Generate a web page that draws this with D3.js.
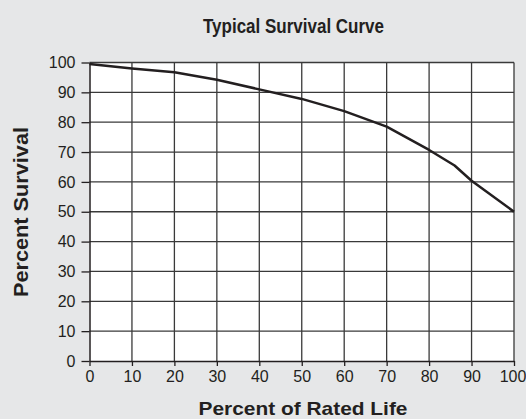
<!DOCTYPE html>
<html><head><meta charset="utf-8">
<script src="https://cdn.jsdelivr.net/npm/d3@7"></script>
<style>
html,body{margin:0;padding:0;background:#e6e7e8;}
svg{display:block;}
</style></head>
<body>
<script>
const xTicks = [0,10,20,30,40,50,60,70,80,90,100];
const yTicks = [0,10,20,30,40,50,60,70,80,90,100];
const lifePct = [0,10,20,30,40,50,60,70,80,86,90,100];
const survivalPct = [99.5,98,96.7,94.2,91,87.8,83.7,78.5,70.7,65.5,60.4,50];
const title = "Typical Survival Curve";
const xTitle = "Percent of Rated Life";
const yTitle = "Percent Survival";

const W = 526, H = 419;
const svg = d3.select("body").append("svg").attr("width", W).attr("height", H);
svg.append("rect").attr("width", W).attr("height", H).attr("fill", "#e6e7e8");

const x = d3.scaleLinear().domain([0,100]).range([89.5, 514]);
const y = d3.scaleLinear().domain([0,100]).range([361, 62.5]);

svg.append("rect").attr("x", x(0)).attr("y", y(100))
  .attr("width", x(100)-x(0)).attr("height", y(0)-y(100)).attr("fill", "#ffffff");

const grid = svg.append("g");
grid.selectAll("line.v").data(xTicks.filter(d=>d>0)).join("line")
  .attr("x1", d=>x(d)).attr("x2", d=>x(d)).attr("y1", y(0)).attr("y2", y(100))
  .attr("stroke", "#3a3a3a").attr("stroke-width", 1.3);
grid.selectAll("line.h").data(yTicks.filter(d=>d>0)).join("line")
  .attr("x1", x(0)).attr("x2", x(100)).attr("y1", d=>y(d)).attr("y2", d=>y(d))
  .attr("stroke", "#3a3a3a").attr("stroke-width", 1.3);

const font = "'Liberation Sans', Arial, Helvetica, sans-serif";

const yAxis = svg.append("g").attr("transform", `translate(${x(0)},0)`)
  .call(d3.axisLeft(y).tickValues(yTicks).tickSize(8).tickPadding(6).tickSizeOuter(0));
const xAxis = svg.append("g").attr("transform", `translate(0,${y(0)})`)
  .call(d3.axisBottom(x).tickValues(xTicks).tickSize(5).tickPadding(5).tickSizeOuter(0));
[yAxis, xAxis].forEach(g => {
  g.selectAll("path.domain").attr("stroke", "#231f20").attr("stroke-width", 1.5);
  g.selectAll(".tick line").attr("stroke", "#231f20").attr("stroke-width", 1.3);
  g.selectAll(".tick text").attr("fill", "#231f20").attr("font-family", font).attr("font-size", 16);
});
xAxis.selectAll(".tick text").filter(d => d === 100).attr("dx", -1.5);

const line = d3.line().x((d,i)=>x(lifePct[i])).y(d=>y(d)).curve(d3.curveLinear);
svg.append("path").datum(survivalPct).attr("d", line)
  .attr("fill", "none").attr("stroke", "#231f20").attr("stroke-width", 2.5)
  .attr("stroke-linejoin", "round");

svg.append("text").attr("x", 293.5).attr("y", 32.5).attr("text-anchor", "middle")
  .attr("font-family", "'Liberation Sans Narrow', 'Arial Narrow', " + font)
  .attr("font-weight", "bold").attr("font-size", 20).attr("fill", "#231f20")
  .attr("textLength", 181).attr("lengthAdjust", "spacingAndGlyphs")
  .text(title);

svg.append("text").attr("x", 303).attr("y", 415).attr("text-anchor", "middle")
  .attr("font-family", font).attr("font-weight", "bold").attr("font-size", 19).attr("fill", "#231f20")
  .attr("textLength", 209).attr("lengthAdjust", "spacingAndGlyphs")
  .text(xTitle);

svg.append("text").attr("transform", "translate(28,212) rotate(-90)").attr("text-anchor", "middle")
  .attr("font-family", font).attr("font-weight", "bold").attr("font-size", 20).attr("fill", "#231f20")
  .attr("textLength", 170).attr("lengthAdjust", "spacingAndGlyphs")
  .text(yTitle);
</script>
</body></html>
